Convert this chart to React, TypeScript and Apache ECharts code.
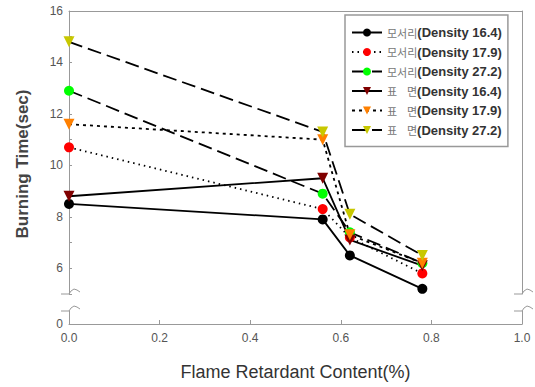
import React, { useEffect, useRef } from "react";
import * as echarts from "echarts";

const xValues = [0, 0.56, 0.62, 0.78];
const edge164 = [8.5, 7.9, 6.5, 5.2];
const edge179 = [10.7, 8.3, 7.2, 5.8];
const edge272 = [12.9, 8.9, 7.4, 6.2];
const surf164 = [8.8, 9.5, 7.1, 6.1];
const surf179 = [11.6, 11.0, 7.3, 6.2];
const surf272 = [14.8, 11.3, 8.1, 6.5];

const seriesNames = [
  "모서리(Density 16.4)",
  "모서리(Density 17.9)",
  "모서리(Density 27.2)",
  "표    면(Density 16.4)",
  "표    면(Density 17.9)",
  "표    면(Density 27.2)",
];
const seriesValues = [edge164, edge179, edge272, surf164, surf179, surf272];
const markerColors = ["#000000", "#ff0000", "#00ff00", "#800000", "#ff8000", "#c8c800"];
const markerShapes = ["circle", "circle", "circle", "triangle", "triangle", "triangle"];
const lineDashes: any[] = ["solid", [1.5, 4], [14, 6], "solid", [3, 4], [14, 6]];

const xTicks = [0, 0.2, 0.4, 0.6, 0.8, 1.0];
const yLabels = [6, 8, 10, 12, 14, 16];

const AXIS = "#999999";

function breakMark(x: number, y: number) {
  return {
    type: "polyline",
    shape: {
      points: [
        [x - 8, y],
        [x, y],
        [x + 2, y - 3],
        [x + 5, y - 5],
        [x + 8, y - 4],
        [x + 11, y - 2],
      ],
    },
    style: { stroke: AXIS, fill: null, lineWidth: 1 },
    silent: true,
  };
}

export default function App() {
  const ref = useRef<HTMLDivElement>(null);
  useEffect(() => {
    if (!ref.current) return;
    document.body.style.margin = "0";
    const chart = echarts.init(ref.current, undefined, { renderer: "svg" });
    const series = seriesNames.map((name, i) => ({
      name,
      type: "line",
      xAxisIndex: 0,
      yAxisIndex: 0,
      data: xValues.map((x, j) => [x, seriesValues[i][j]]),
      symbol: markerShapes[i],
      symbolSize: markerShapes[i] === "circle" ? 10 : 11,
      symbolRotate: markerShapes[i] === "triangle" ? 180 : 0,
      showSymbol: true,
      lineStyle: { color: "#000", width: 1.8, type: lineDashes[i] },
      itemStyle: { color: markerColors[i], borderWidth: 0 },
      emphasis: { disabled: true },
    }));
    chart.setOption({
      animation: false,
      backgroundColor: "#ffffff",
      grid: [
        { left: 69, right: 13, top: 11, bottom: 93 },
        { left: 69, right: 13, top: 311, bottom: 63 },
      ],
      xAxis: [
        {
          type: "value",
          gridIndex: 0,
          min: 0,
          max: 1,
          position: "top",
          axisLine: { show: true, lineStyle: { color: AXIS } },
          axisTick: { show: false },
          axisLabel: { show: false },
          splitLine: { show: false },
        },
        {
          type: "value",
          gridIndex: 1,
          min: 0,
          max: 1,
          interval: 0.2,
          position: "bottom",
          axisLine: { show: true, lineStyle: { color: AXIS } },
          axisTick: { show: true, inside: true, length: 4, lineStyle: { color: AXIS } },
          axisLabel: {
            color: "#555",
            fontSize: 12,
            fontFamily: "Liberation Sans",
            margin: 8,
            formatter: (v: number) => (xTicks.some((t) => Math.abs(t - v) < 1e-6) ? v.toFixed(1) : ""),
          },
          splitLine: { show: false },
          name: "Flame Retardant Content(%)",
          nameLocation: "middle",
          nameGap: 39,
          nameTextStyle: { color: "#333", fontSize: 18, fontFamily: "Liberation Sans" },
        },
      ],
      yAxis: [
        {
          type: "value",
          gridIndex: 0,
          min: 5,
          max: 16,
          interval: 1,
          position: "left",
          axisLine: { show: true, lineStyle: { color: AXIS } },
          axisTick: { show: true, inside: true, length: 3, lineStyle: { color: AXIS } },
          axisLabel: {
            color: "#555",
            fontSize: 12,
            fontFamily: "Liberation Sans",
            margin: 6,
            formatter: (v: number) => (yLabels.indexOf(v) >= 0 ? String(v) : ""),
          },
          splitLine: { show: false },
        },
        {
          type: "value",
          gridIndex: 0,
          min: 5,
          max: 16,
          position: "right",
          axisLine: { show: true, lineStyle: { color: AXIS } },
          axisTick: { show: false },
          axisLabel: { show: false },
          splitLine: { show: false },
        },
        {
          type: "value",
          gridIndex: 1,
          min: 0,
          max: 0.6,
          interval: 0.6,
          position: "left",
          axisLine: { show: true, lineStyle: { color: AXIS } },
          axisTick: { show: false },
          axisLabel: {
            color: "#555",
            fontSize: 12,
            fontFamily: "Liberation Sans",
            margin: 6,
            formatter: (v: number) => (v === 0 ? "0" : ""),
          },
          splitLine: { show: false },
        },
        {
          type: "value",
          gridIndex: 1,
          min: 0,
          max: 0.6,
          position: "right",
          axisLine: { show: true, lineStyle: { color: AXIS } },
          axisTick: { show: false },
          axisLabel: { show: false },
          splitLine: { show: false },
        },
      ],
      legend: {
        orient: "vertical",
        left: 345,
        top: 15,
        padding: [11, 6, 10, 6],
        itemGap: 6.5,
        itemWidth: 30,
        itemHeight: 10,
        borderColor: "#999",
        borderWidth: 1.5,
        backgroundColor: "#fff",
        data: seriesNames,
        formatter: (name: string) => {
          const i = name.indexOf("(");
          return `{k|${name.slice(0, i)}}{d|${name.slice(i)}}`;
        },
        textStyle: {
          rich: {
            k: { fontSize: 11, color: "#777", fontFamily: "Noto Sans CJK KR", lineHeight: 12 },
            d: { fontSize: 13, color: "#333", fontWeight: "bold", fontFamily: "Liberation Sans", lineHeight: 12 },
          },
        },
      },
      graphic: [
        {
          type: "text",
          x: 22,
          y: 164,
          rotation: Math.PI / 2,
          style: {
            text: "Burning Time(sec)",
            fontSize: 17,
            fontWeight: "bold",
            fontFamily: "Liberation Sans",
            fill: "#444",
            align: "center",
            verticalAlign: "middle",
          },
        },
        breakMark(69, 294),
        breakMark(69, 311),
        breakMark(522, 294),
        breakMark(522, 311),
      ],
      series,
    });
    return () => chart.dispose();
  }, []);
  return <div ref={ref} style={{ position: "fixed", left: 0, top: 0, width: 535, height: 387 }} />;
}
